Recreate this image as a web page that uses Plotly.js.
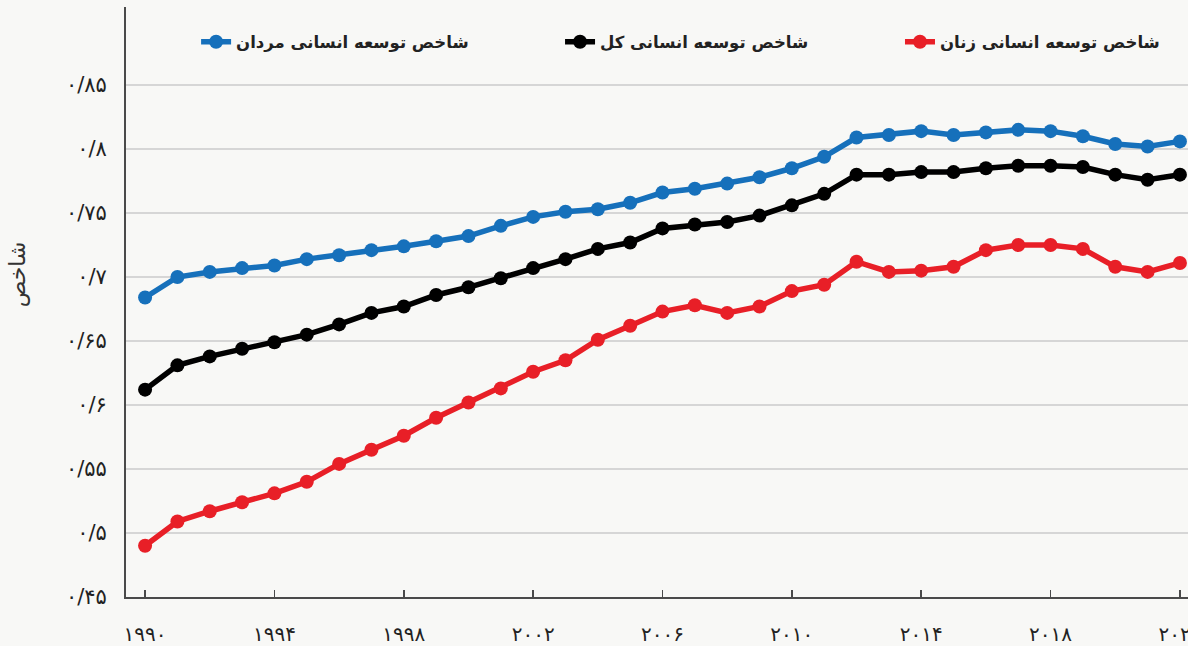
<!DOCTYPE html>
<html>
<head>
<meta charset="utf-8">
<script src="https://cdn.plot.ly/plotly-3.0.1.min.js"></script>
<style>
html,body{margin:0;padding:0;background:#f8f8f6;}
#chart{width:1188px;height:646px;}
</style>
</head>
<body>
<div id="chart"></div>
<script>
const years = [1990,1991,1992,1993,1994,1995,1996,1997,1998,1999,2000,2001,2002,2003,2004,2005,2006,2007,2008,2009,2010,2011,2012,2013,2014,2015,2016,2017,2018,2019,2020,2021,2022];
const men = [0.684,0.700,0.704,0.707,0.709,0.714,0.717,0.721,0.724,0.728,0.732,0.740,0.747,0.751,0.753,0.758,0.766,0.769,0.773,0.778,0.785,0.794,0.809,0.811,0.814,0.811,0.813,0.815,0.814,0.810,0.804,0.802,0.806];
const total = [0.612,0.631,0.638,0.644,0.649,0.655,0.663,0.672,0.677,0.686,0.692,0.699,0.707,0.714,0.722,0.727,0.738,0.741,0.743,0.748,0.756,0.765,0.780,0.780,0.782,0.782,0.785,0.787,0.787,0.786,0.780,0.776,0.780];
const women = [0.490,0.509,0.517,0.524,0.531,0.540,0.554,0.565,0.576,0.590,0.602,0.613,0.626,0.635,0.651,0.662,0.673,0.678,0.672,0.677,0.689,0.694,0.712,0.704,0.705,0.708,0.721,0.725,0.725,0.722,0.708,0.704,0.711];
const seriesNames = ['شاخص توسعه انسانی مردان','شاخص توسعه انسانی کل','شاخص توسعه انسانی زنان'];
const xTickVals = [1990,1994,1998,2002,2006,2010,2014,2018,2022];
const xTickText = ['۱۹۹۰','۱۹۹۴','۱۹۹۸','۲۰۰۲','۲۰۰۶','۲۰۱۰','۲۰۱۴','۲۰۱۸','۲۰۲۲'];
const yTickVals = [0.45,0.5,0.55,0.6,0.65,0.7,0.75,0.8,0.85];
const yTickText = ['۰/۴۵','۰/۵','۰/۵۵','۰/۶','۰/۶۵','۰/۷','۰/۷۵','۰/۸','۰/۸۵'];
const yTitle = 'شاخص';

const colors = ['#1670bb','#000000','#e81f27'];
const values = [men,total,women];
const legendIds = ['legend','legend2','legend3'];
const legendX = [0.066, 0.4087, 0.7288];

const traces = values.map((v,i)=>({
  x: years, y: v, name: seriesNames[i],
  type:'scatter', mode:'lines+markers',
  line:{color:colors[i], width:5.5},
  marker:{color:colors[i], size:14},
  cliponaxis:false,
  legend: legendIds[i]
}));

function legendSpec(x){
  return {
    orientation:'h', xref:'paper', yref:'paper',
    x:x, y:0.9407, xanchor:'left', yanchor:'middle',
    font:{size:16.5, family:'DejaVu Sans, sans-serif', weight:'bold', color:'#222'},
    bgcolor:'rgba(0,0,0,0)', itemclick:false
  };
}

const layout = {
  width:1188, height:646,
  paper_bgcolor:'#f8f8f6', plot_bgcolor:'rgba(0,0,0,0)',
  margin:{l:126, r:0, t:7, b:49, autoexpand:false},
  font:{family:'DejaVu Sans, Noto Sans, sans-serif', color:'#222'},
  showlegend:true,
  legend: legendSpec(legendX[0]),
  legend2: legendSpec(legendX[1]),
  legend3: legendSpec(legendX[2]),
  xaxis:{
    range:[1989.41, 2022.25],
    automargin:false,
    tickvals:xTickVals, ticktext:xTickText,
    showgrid:false, zeroline:false,
    showline:true, linecolor:'#4a4a4a', linewidth:2,
    ticks:'inside', ticklen:7, tickwidth:1.5, tickcolor:'#4a4a4a',
    ticklabelstandoff:18, ticklabeloverflow:'allow',
    tickfont:{size:20, color:'#222', family:'DejaVu Sans, sans-serif'}
  },
  yaxis:{
    range:[0.45, 0.911],
    automargin:false,
    tickvals:yTickVals, ticktext:yTickText,
    showgrid:true, gridcolor:'#d6d6d6', gridwidth:2,
    zeroline:false,
    showline:true, linecolor:'#4a4a4a', linewidth:2,
    ticks:'', ticklabelstandoff:13,
    tickfont:{size:21, color:'#222', family:'DejaVu Sans, sans-serif'}
  },
  annotations:[{
    text:yTitle, xref:'paper', yref:'paper',
    x:-0.1017, y:0.547, xanchor:'center', yanchor:'middle',
    textangle:-90, showarrow:false,
    font:{size:22, color:'#333', family:'DejaVu Sans, sans-serif'}
  }]
};

Plotly.newPlot('chart', traces, layout, {displayModeBar:false, staticPlot:true});
</script>
</body>
</html>
